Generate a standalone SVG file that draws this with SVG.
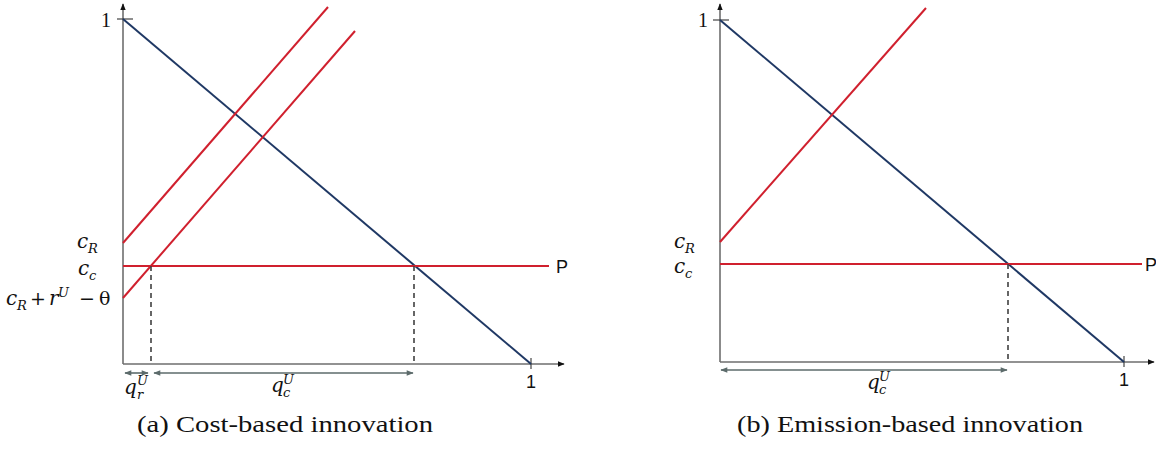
<svg xmlns="http://www.w3.org/2000/svg" width="1156" height="451" viewBox="0 0 1156 451">
<defs>
<style>
.axis{stroke:#6e6e6e;stroke-width:1.6;fill:none}
.tick{stroke:#444;stroke-width:1.2}
.blue{stroke:#1f3864;stroke-width:2;fill:none}
.red{stroke:#d0202e;stroke-width:2;fill:none}
.dash{stroke:#404040;stroke-width:1.6;stroke-dasharray:5,4;fill:none}
.dim{stroke:#5c6b6b;stroke-width:1.6;fill:none}
.m{font-family:"DejaVu Serif","Liberation Serif",serif;font-style:italic;font-size:20px;fill:#111}
.s{font-family:"DejaVu Serif","Liberation Serif",serif;font-style:italic;font-size:13px;fill:#111}
.up{font-family:"DejaVu Serif","Liberation Serif",serif;font-style:normal;font-size:19px;fill:#111}
.one{font-family:"Liberation Serif",serif;font-size:20px;fill:#111}
.sans{font-family:"Liberation Sans",Arial,sans-serif;font-size:18px;fill:#111}
.cap{font-family:"Liberation Serif","Times New Roman",serif;font-size:24px;fill:#111}
</style>
<marker id="ah" viewBox="0 0 10 10" refX="9" refY="5" markerWidth="7" markerHeight="7" markerUnits="userSpaceOnUse" orient="auto-start-reverse"><path d="M0,1 L10,5 L0,9 z" fill="#111"/></marker>
<marker id="dh" viewBox="0 0 10 10" refX="9" refY="5" markerWidth="8" markerHeight="7" markerUnits="userSpaceOnUse" orient="auto-start-reverse"><path d="M0,1 L10,5 L0,9 z" fill="#5c6b6b"/></marker>
</defs>

<g id="panel-a">
  <g id="a-axes">
    <line class="axis" x1="123" y1="364" x2="123" y2="4" marker-end="url(#ah)"/>
    <line class="axis" x1="123" y1="364" x2="564" y2="364" marker-end="url(#ah)"/>
    <line class="tick" x1="117" y1="19" x2="133" y2="19"/>
    <line class="tick" x1="531" y1="358" x2="531" y2="369"/>
  </g>
  <g id="a-connectors">
    <line class="blue" x1="123" y1="19" x2="531" y2="364"/>
    <line class="red" x1="123" y1="243" x2="328" y2="7"/>
    <line class="red" x1="123" y1="298" x2="355" y2="31"/>
    <line class="red" x1="123" y1="266" x2="549" y2="266"/>
    <line class="dash" x1="151" y1="266" x2="151" y2="364"/>
    <line class="dash" x1="414" y1="266" x2="414" y2="364"/>
    <line class="dim" x1="125" y1="373" x2="148" y2="373" marker-start="url(#dh)" marker-end="url(#dh)"/>
    <line class="dim" x1="154" y1="373" x2="413" y2="373" marker-start="url(#dh)" marker-end="url(#dh)"/>
  </g>
  <g id="a-labels">
    <text class="one" x="101" y="27">1</text>
    <text class="sans" x="526" y="388">1</text>
    <text class="sans" x="556" y="273">P</text>
    <text class="m" x="77" y="248">c</text><text class="s" x="88" y="253">R</text>
    <text class="m" x="78" y="275">c</text><text class="s" x="89" y="280">c</text>
    <text class="m" x="6" y="305">c</text><text class="s" x="17" y="310">R</text>
    <text class="up" x="30" y="305">+</text>
    <text class="m" x="49" y="305">r</text><text class="s" x="58" y="297">U</text>
    <text class="up" x="79" y="305">−</text>
    <text class="up" x="99" y="305">θ</text>
    <text class="m" x="124" y="394">q</text><text class="s" x="137" y="385">U</text><text class="s" x="137" y="399">r</text>
    <text class="m" x="271" y="392">q</text><text class="s" x="283" y="384">U</text><text class="s" x="283" y="397">c</text>
  </g>
  <text class="cap" x="137" y="432" textLength="296" lengthAdjust="spacingAndGlyphs">(a) Cost-based innovation</text>
</g>

<g id="panel-b">
  <g id="b-axes">
    <line class="axis" x1="720" y1="362" x2="720" y2="4" marker-end="url(#ah)"/>
    <line class="axis" x1="720" y1="362" x2="1154" y2="362" marker-end="url(#ah)"/>
    <line class="tick" x1="713" y1="20" x2="729" y2="20"/>
    <line class="tick" x1="1124" y1="356" x2="1124" y2="367"/>
  </g>
  <g id="b-connectors">
    <line class="blue" x1="720" y1="20" x2="1124" y2="362"/>
    <line class="red" x1="720" y1="242" x2="926" y2="8"/>
    <line class="red" x1="720" y1="264" x2="1142" y2="264"/>
    <line class="dash" x1="1008" y1="264" x2="1008" y2="362"/>
    <line class="dim" x1="721" y1="370" x2="1007" y2="370" marker-start="url(#dh)" marker-end="url(#dh)"/>
  </g>
  <g id="b-labels">
    <text class="one" x="698" y="27">1</text>
    <text class="sans" x="1119" y="386">1</text>
    <text class="sans" x="1145" y="271">P</text>
    <text class="m" x="674" y="248">c</text><text class="s" x="685" y="253">R</text>
    <text class="m" x="674" y="273">c</text><text class="s" x="685" y="278">c</text>
    <text class="m" x="867" y="389">q</text><text class="s" x="879" y="381">U</text><text class="s" x="879" y="394">c</text>
  </g>
  <text class="cap" x="737" y="432" textLength="346" lengthAdjust="spacingAndGlyphs">(b) Emission-based innovation</text>
</g>
</svg>
